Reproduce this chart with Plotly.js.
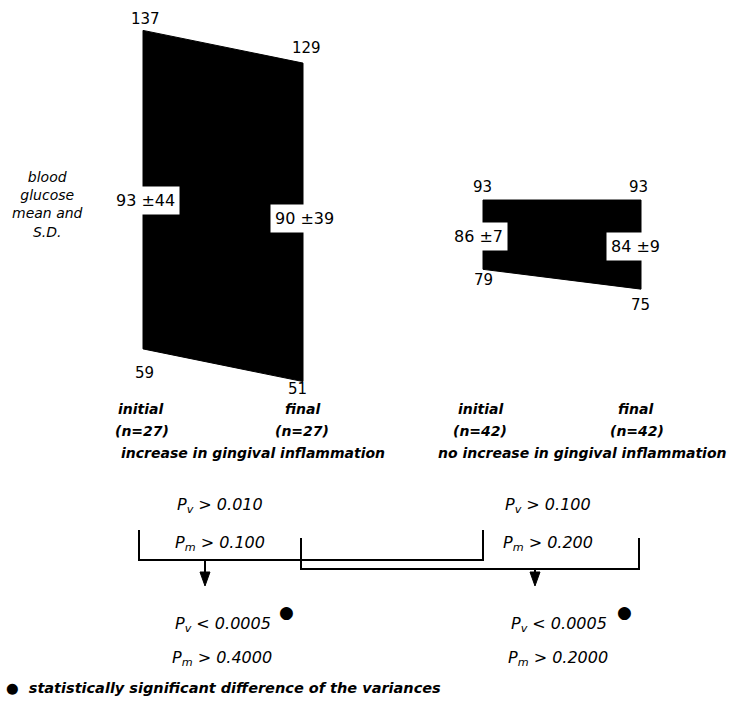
<!DOCTYPE html>
<html>
<head>
<meta charset="utf-8">
<script src="https://cdn.plot.ly/plotly-3.0.1.min.js"></script>
<style>
html,body{margin:0;padding:0;background:#fff;}
#chart{width:740px;height:704px;}
</style>
</head>
<body>
<div id="chart"></div>
<script>
// ---------------- data ----------------
const stages = ['initial', 'final'];
const groupNames = ['increase in gingival inflammation', 'no increase in gingival inflammation'];
const groupN = [27, 42];

// group 1: increase in gingival inflammation
const incMean = [93, 90];
const incSD = [44, 39];
const incUpper = [137, 129];
const incLower = [59, 51];

// group 2: no increase in gingival inflammation
const noIncMean = [86, 84];
const noIncSD = [7, 9];
const noIncUpper = [93, 93];
const noIncLower = [79, 75];

// within-group tests (initial vs final)
const withinPv = ['> 0.010', '> 0.100'];
const withinPm = ['> 0.100', '> 0.200'];
// between-group tests (initial vs initial, final vs final)
const betweenPv = ['< 0.0005', '< 0.0005'];
const betweenPm = ['> 0.4000', '> 0.2000'];
const betweenSignificant = [true, true];

const axisLabel = ['blood', 'glucose', 'mean and', 'S.D.'];
const footnote = 'statistically significant difference of the variances';

// ---------------- layout helpers ----------------
const W = 740, H = 704;
const FONT = 'DejaVu Sans, sans-serif';
const colX = [[143, 303], [483, 641]];
const P = (x, y) => (x / W).toFixed(5) + ',' + (1 - y / H).toFixed(5);

const groups = [
  {mean: incMean, sd: incSD, upper: incUpper, lower: incLower, yaxis: 'y'},
  {mean: noIncMean, sd: noIncSD, upper: noIncUpper, lower: noIncLower, yaxis: 'y2'}
];

const traces = groups.map((g, i) => ({
  type: 'scatter', mode: 'lines',
  x: [colX[i][0], colX[i][1], colX[i][1], colX[i][0], colX[i][0]],
  y: [g.upper[0], g.upper[1], g.lower[1], g.lower[0], g.upper[0]],
  yaxis: g.yaxis,
  fill: 'toself', fillcolor: '#000',
  line: {color: '#000', width: 1},
  hoverinfo: 'skip'
}));

const annotations = [];
function txt(text, x, y, o) {
  annotations.push(Object.assign({
    text: text, x: x / W, y: 1 - y / H, xref: 'paper', yref: 'paper',
    showarrow: false, xanchor: 'center', yanchor: 'middle',
    font: {family: FONT, size: 14, color: '#000'}
  }, o || {}));
}
function dataTxt(text, x, y, yref, xs, ys, o) {
  annotations.push(Object.assign({
    text: text, x: x, y: y, xref: 'x', yref: yref,
    xshift: xs, yshift: ys,
    showarrow: false, xanchor: 'center', yanchor: 'middle',
    font: {family: FONT, size: 15, color: '#000'}
  }, o || {}));
}

// corner value labels (upper/lower, initial/final) with small offsets
const upShift = [[[2, 11], [3, 15]], [[-1, 13], [-3, 13]]];
const loShift = [[[1, -24], [-6, -7]], [[0, -11], [-1, -16]]];
// mean +- SD label offsets
const meanShift = [[[2, 10], [1, 4]], [[-5, -2], [-6, -2]]];

groups.forEach((g, i) => {
  [0, 1].forEach(j => {
    dataTxt(String(g.upper[j]), colX[i][j], g.upper[j], g.yaxis, upShift[i][j][0], upShift[i][j][1]);
    dataTxt(String(g.lower[j]), colX[i][j], g.lower[j], g.yaxis, loShift[i][j][0], loShift[i][j][1]);
    dataTxt(g.mean[j] + ' \u00b1' + g.sd[j], colX[i][j], g.mean[j], g.yaxis, meanShift[i][j][0], meanShift[i][j][1],
      {bgcolor: '#fff', borderpad: 4, font: {family: FONT, size: 16, color: '#000'}});
  });
});

const italic = {family: FONT, size: 14, color: '#000', style: 'italic', weight: 'bold'};
const italicReg = {family: FONT, size: 14, color: '#000', style: 'italic'};

// y-axis description
txt(axisLabel.join('<br>'), 47, 204, {font: italicReg});

// stage labels and group labels
const stageX = [[141, 302], [481, 635]];
const nX = [[142, 302], [480, 637]];
const groupX = [253, 582];
groups.forEach((g, i) => {
  [0, 1].forEach(j => {
    txt(stages[j], stageX[i][j], 409, {font: italic});
    txt('(n=' + groupN[i] + ')', nX[i][j], 431, {font: italic});
  });
  txt(groupNames[i], groupX[i], 453, {font: italic});
});

// p values
const pFont = {family: FONT, size: 16, color: '#000', style: 'italic'};
const withinX = [220, 548];
const betweenX = [223, 559];
const dotX = [286, 624];
[0, 1].forEach(i => {
  txt('P<sub>v</sub> ' + withinPv[i], withinX[i], 505, {font: pFont});
  txt('P<sub>m</sub> ' + withinPm[i], withinX[i], 543, {font: pFont});
  txt('P<sub>v</sub> ' + betweenPv[i], betweenX[i], 624, {font: pFont});
  txt('P<sub>m</sub> ' + betweenPm[i], betweenX[i] - 1, 658, {font: pFont});
  if (betweenSignificant[i]) txt('\u25cf', dotX[i], 612, {font: {family: FONT, size: 17, color: '#000'}});
});

// footnote
txt('\u25cf  ' + footnote, 4, 688, {xanchor: 'left', font: {family: FONT, size: 14.5, color: '#000', style: 'italic', weight: 'bold'}});

// brackets and arrows
const shapes = [];
const line = {color: '#000', width: 2};
shapes.push({type: 'path', xref: 'paper', yref: 'paper', line: line,
  path: 'M' + P(139, 530) + 'L' + P(139, 560) + 'L' + P(483, 560) + 'L' + P(483, 530)});
shapes.push({type: 'path', xref: 'paper', yref: 'paper', line: line,
  path: 'M' + P(301, 538) + 'L' + P(301, 569) + 'L' + P(639, 569) + 'L' + P(639, 538)});
// arrows
[[205, 560, 586], [535, 569, 586]].forEach(a => {
  shapes.push({type: 'path', xref: 'paper', yref: 'paper', line: line,
    path: 'M' + P(a[0], a[1]) + 'L' + P(a[0], a[2] - 10)});
  shapes.push({type: 'path', xref: 'paper', yref: 'paper', line: {color: '#000', width: 1}, fillcolor: '#000',
    path: 'M' + P(a[0] - 5, a[2] - 14) + 'L' + P(a[0] + 5, a[2] - 14) + 'L' + P(a[0], a[2]) + 'Z'});
});

const layout = {
  width: W, height: H,
  margin: {l: 0, r: 0, t: 0, b: 0},
  paper_bgcolor: '#fff', plot_bgcolor: '#fff',
  showlegend: false,
  xaxis: {range: [0, W], visible: false, fixedrange: true},
  yaxis: {range: [-27.97, 144.45], visible: false, fixedrange: true},
  yaxis2: {range: [-8.81, 133.41], visible: false, fixedrange: true, overlaying: 'y'},
  annotations: annotations,
  shapes: shapes
};

Plotly.newPlot('chart', traces, layout, {displayModeBar: false, staticPlot: true});
</script>
</body>
</html>
